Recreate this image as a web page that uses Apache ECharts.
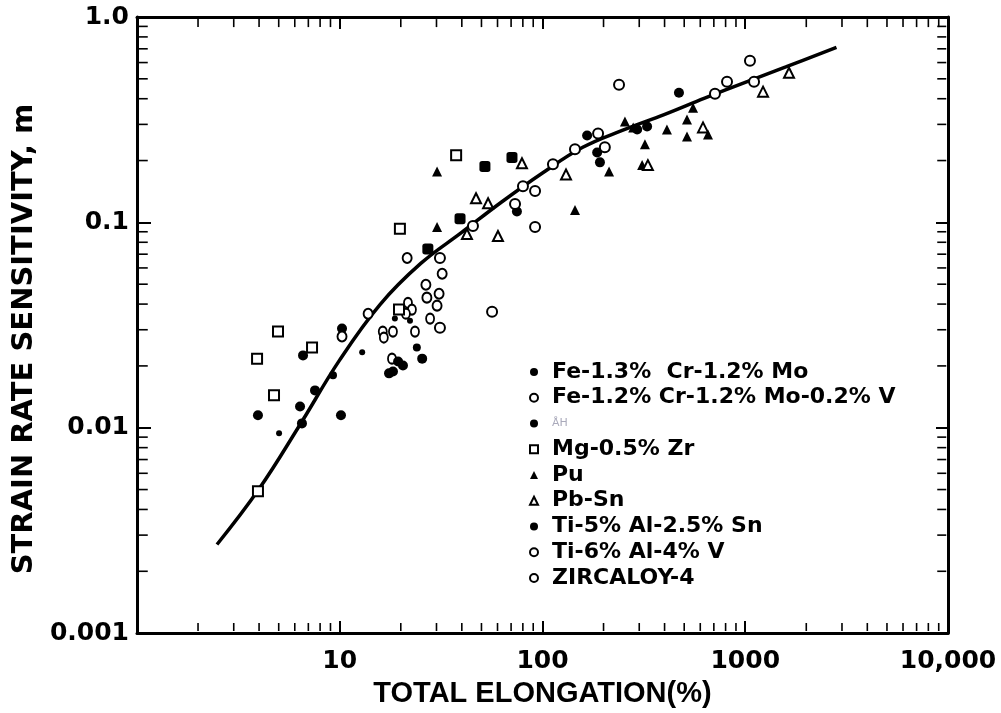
<!DOCTYPE html>
<html><head><meta charset="utf-8">
<script src="https://cdn.jsdelivr.net/npm/echarts@6/dist/echarts.min.js"></script>
<style>html,body{margin:0;padding:0;background:#fff}#c{width:1001px;height:713px}</style>
</head><body><div id="c"></div>
<script>
// ---- tick labels ----
const xTickValues = [1, 10, 100, 1000, 10000];
const xTickLabels = ['', '10', '100', '1000', '10,000'];
const yTickValues = [0.001, 0.01, 0.1, 1];
const yTickLabels = ['0.001', '0.01', '0.1', '1.0'];
const xMinorTicks = [2,3,4,5,6,7,8,9,20,30,40,50,60,70,80,90,200,300,400,500,600,700,800,900,2000,3000,4000,5000,6000,7000,8000,9000];
const yMinorTicks = [0.002,0.003,0.004,0.005,0.006,0.007,0.008,0.009,0.02,0.03,0.04,0.05,0.06,0.07,0.08,0.09,0.2,0.3,0.4,0.5,0.6,0.7,0.8,0.9];

// ---- legend names ----
const legendNames = ['Fe-1.3%  Cr-1.2% Mo', 'Fe-1.2% Cr-1.2% Mo-0.2% V', 'ÅH', 'Mg-0.5% Zr', 'Pu', 'Pb-Sn', 'Ti-5% Al-2.5% Sn', 'Ti-6% Al-4% V', 'ZIRCALOY-4'];

// ---- fitted curve [elongation %, m] ----
const fitCurve = [[2.48,0.0027],[3.98,0.0050],[6.31,0.0102],[10,0.0214],[15.8,0.0398],[25.1,0.0631],[39.8,0.0891],[63.1,0.126],[100,0.174],[158,0.232],[251,0.282],[398,0.335],[631,0.403],[1000,0.481],[1585,0.571],[2818,0.711]];

// ---- data series [elongation %, m] ----
const feCrMo = [[5.02,0.0094],[12.9,0.0233],[18.7,0.034],[22.2,0.0332]];
const feCrMoV = [[21.7,0.0406],[22.7,0.0376],[21.2,0.0359],[16.3,0.0294],[18.3,0.0294],[16.5,0.0275],[23.5,0.0294],[18.1,0.0217],[27.9,0.034]];
const ahData = [[9.26,0.018],[24.0,0.0246]];
const mgZr = [[3.95,0.0049],[3.91,0.0217],[4.96,0.0294],[4.74,0.0144],[7.30,0.0246],[19.8,0.093],[37.5,0.212],[19.6,0.0376]];
const pu = [[30.2,0.177],[30.2,0.095],[144.6,0.115],[213,0.177],[255,0.31],[320,0.24],[310,0.19],[411,0.283],[516,0.317],[516,0.262],[553,0.362],[655,0.268],[280,0.29]];
const pbSn = [[47.0,0.131],[53.9,0.124],[42.4,0.0878],[60.3,0.0858],[79.2,0.194],[130.6,0.171],[331,0.19],[619,0.29],[1224,0.433],[1644,0.535]];
const tiAlSn = [[3.95,0.0115],[6.59,0.0225],[10.26,0.0304],[10.14,0.0115],[6.37,0.0127],[6.51,0.0105],[7.55,0.0152],[19.4,0.021],[20.5,0.0201],[18.3,0.0188],[17.5,0.0184],[25.5,0.0217],[74.8,0.113],[166,0.265],[471,0.428],[192,0.196],[186,0.219],[293,0.283],[328,0.293]];
const tiAlSnSq = [[39.2,0.104],[52.0,0.187],[70.7,0.207],[27.2,0.0742]];
const tiAlV = [[10.26,0.0278],[13.8,0.0359],[21.5,0.0671],[26.6,0.0497],[26.9,0.043],[30.9,0.0449],[30.2,0.0393],[32.0,0.0562]];
const zircaloy = [[31.2,0.0671],[31.2,0.0307],[45.4,0.096],[56.4,0.0367],[73.2,0.123],[80.1,0.15],[91.9,0.0949],[91.9,0.142],[112.6,0.192],[144.6,0.227],[188,0.271],[203,0.232],[238.5,0.468],[709,0.423],[813,0.484],[1105,0.484],[1055,0.612]];

function lookup(vals, labels, v) {
  for (let i = 0; i < vals.length; i++) {
    if (Math.abs(Math.log10(vals[i]) - Math.log10(v)) < 1e-6) return labels[i];
  }
  return '';
}
const filled = {color: '#000', opacity: 1};
const open = {color: '#fff', borderColor: '#000', borderWidth: 2, opacity: 1};
function sc(name, data, symbol, size, style) {
  return {type: 'scatter', name: name, data: data, symbol: symbol, symbolSize: size, itemStyle: style, z: 3, silent: true};
}
const X_MIN = xTickValues[0], X_MAX = xTickValues[xTickValues.length - 1];
const Y_MIN = yTickValues[0], Y_MAX = yTickValues[yTickValues.length - 1];
// minor tick marks, placed through the axis scales just inside the frame
function tickMarks(name, data, size, offset) {
  return {type: 'scatter', name: name, data: data, symbol: 'rect', symbolSize: size, symbolOffset: offset,
    itemStyle: {color: '#000', opacity: 1}, silent: true, z: 6};
}

const axisCommon = {
  type: 'log', logBase: 10,
  axisLine: {show: true, onZero: false, lineStyle: {color: '#000', width: 3}},
  axisTick: {show: true, inside: true, length: 12, lineStyle: {color: '#000', width: 2}},
  splitLine: {show: false}
};
const tickFont = {color: '#000', fontFamily: 'DejaVu Sans', fontWeight: 'bold', fontSize: 25};
const legendFont = {color: '#000', fontFamily: 'DejaVu Sans', fontWeight: 'bold', fontSize: 22, lineHeight: 22, padding: [0, 0, 0, 9]};
const openIcon = {color: '#fff', borderColor: '#000', borderWidth: 2};

const chart = echarts.init(document.getElementById('c'), null, {renderer: 'canvas'});
chart.setOption({
  backgroundColor: '#fff',
  animation: false,
  grid: {left: 137, right: 53, top: 17, bottom: 77, containLabel: false},
  xAxis: [
    Object.assign({}, axisCommon, {
      position: 'bottom', min: X_MIN, max: X_MAX,
      axisLabel: Object.assign({}, tickFont, {margin: 16, formatter: v => lookup(xTickValues, xTickLabels, v)}),
      name: 'TOTAL ELONGATION(%)', nameLocation: 'middle', nameGap: 45,
      nameTextStyle: {color: '#000', fontFamily: 'Liberation Sans', fontWeight: 'bold', fontSize: 29}
    }),
    Object.assign({}, axisCommon, {position: 'top', min: X_MIN, max: X_MAX, axisLabel: {show: false}})
  ],
  yAxis: [
    Object.assign({}, axisCommon, {
      position: 'left', min: Y_MIN, max: Y_MAX,
      axisTick: {show: true, inside: true, length: 14, lineStyle: {color: '#000', width: 2}},
      axisLabel: Object.assign({}, tickFont, {margin: 8, formatter: v => lookup(yTickValues, yTickLabels, v)}),
      name: 'STRAIN RATE SENSITIVITY, m', nameLocation: 'middle', nameGap: 93, nameRotate: 90,
      nameTextStyle: {color: '#000', fontFamily: 'DejaVu Sans', fontWeight: 'bold', fontSize: 29, padding: [0, 28, 0, 0]}
    }),
    Object.assign({}, axisCommon, {position: 'right', min: Y_MIN, max: Y_MAX, axisLabel: {show: false}})
  ],
  legend: {
    orient: 'vertical', left: 529, top: 361, padding: 0, itemGap: 3.75,
    itemWidth: 8, itemHeight: 8, selectedMode: false, textStyle: legendFont,
    data: [
      {name: legendNames[0], icon: 'circle', itemStyle: {color: '#000'}},
      {name: legendNames[1], icon: 'circle', itemStyle: openIcon},
      {name: legendNames[2], icon: 'circle', itemStyle: {color: '#000'}, textStyle: {color: '#aab', fontSize: 11, fontWeight: 'normal'}},
      {name: legendNames[3], icon: 'rect', itemStyle: openIcon},
      {name: legendNames[4], icon: 'triangle', itemStyle: {color: '#000'}},
      {name: legendNames[5], icon: 'triangle', itemStyle: openIcon},
      {name: legendNames[6], icon: 'circle', itemStyle: {color: '#000'}},
      {name: legendNames[7], icon: 'circle', itemStyle: openIcon},
      {name: legendNames[8], icon: 'circle', itemStyle: openIcon}
    ]
  },
  series: [
    {type: 'line', name: 'fit', data: fitCurve, smooth: 0.4, symbol: 'none', lineStyle: {color: '#000', width: 3.5}, z: 2, silent: true},
    sc(legendNames[0], feCrMo, 'circle', 6, filled),
    sc(legendNames[1], feCrMoV, 'circle', [8, 10], open),
    sc(legendNames[2], ahData, 'circle', 8, filled),
    sc(legendNames[3], mgZr, 'rect', 10, open),
    sc(legendNames[4], pu, 'triangle', 10, filled),
    sc(legendNames[5], pbSn, 'triangle', 10, open),
    sc(legendNames[6], tiAlSn, 'circle', 10, filled),
    sc(legendNames[6], tiAlSnSq, 'roundRect', 11, filled),
    sc(legendNames[7], tiAlV, 'circle', [9, 10], open),
    sc(legendNames[8], zircaloy, 'circle', 10, open),
    tickMarks('minorBottom', xMinorTicks.map(v => [v, Y_MIN * 1.04]), [1.6, 8], [0, -2.6]),
    tickMarks('minorTop', xMinorTicks.map(v => [v, Y_MAX / 1.04]), [1.6, 8], [0, 2.6]),
    tickMarks('minorLeft', yMinorTicks.map(v => [X_MIN * 1.04, v]), [9, 1.6], [2.8, 0]),
    tickMarks('minorRight', yMinorTicks.map(v => [X_MAX / 1.04, v]), [9, 1.6], [-2.8, 0])
  ]
});
</script></body></html>
